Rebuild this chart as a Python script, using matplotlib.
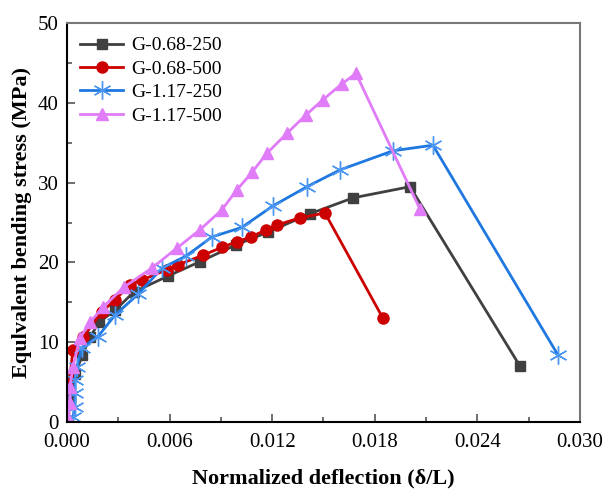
import matplotlib
matplotlib.use("Agg")
import matplotlib.pyplot as plt
from matplotlib.ticker import MultipleLocator

plt.rcParams['font.family'] = ['Liberation Serif', 'DejaVu Serif']
plt.rcParams['mathtext.fontset'] = 'stix'

labels = ['G-0.68-250', 'G-0.68-500', 'G-1.17-250', 'G-1.17-500']

# G-0.68-250
x1 = [0.0, 0.0002, 0.0005, 0.0009, 0.00135, 0.00187, 0.00281, 0.00392, 0.00591,
      0.00778, 0.00988, 0.01175, 0.01421, 0.01673, 0.02006, 0.02649]
y1 = [0.0, 3.2, 6.0, 8.4, 10.6, 12.5, 14.0, 16.3, 18.3,
      20.1, 22.2, 23.8, 26.1, 28.1, 29.5, 7.0]

# G-0.68-500
x2 = [0.0, 0.00018, 0.00035, 0.00094, 0.00205, 0.00281, 0.00368, 0.00439, 0.00585,
      0.00649, 0.00795, 0.00906, 0.00994, 0.01076, 0.01164, 0.01228, 0.01363,
      0.01509, 0.01848]
y2 = [4.5, 5.6, 9.0, 10.6, 13.8, 15.3, 17.2, 17.8, 19.1,
      19.7, 20.9, 21.9, 22.6, 23.2, 24.1, 24.7, 25.6,
      26.2, 13.0]

# G-1.17-250
x3 = [0.00035, 0.00047, 0.00047, 0.00047, 0.00058, 0.00088, 0.00181, 0.00281,
      0.00415, 0.00556, 0.00696, 0.00848, 0.01023, 0.01205, 0.01404, 0.01596,
      0.01906, 0.0214, 0.02871]
y3 = [0.6, 1.9, 3.6, 5.3, 6.9, 9.3, 10.7, 13.4,
      16.0, 19.3, 20.8, 23.2, 24.4, 27.1, 29.5, 31.6,
      34.0, 34.7, 8.4]

# G-1.17-500
x4 = [0.0001, 0.00018, 0.00018, 0.00035, 0.00076, 0.00135, 0.00211, 0.00333,
      0.00497, 0.00643, 0.00778, 0.00906, 0.00994, 0.01082, 0.0117, 0.01287,
      0.01398, 0.01497, 0.01608, 0.0169, 0.02064]
y4 = [0.3, 2.4, 4.4, 6.9, 10.5, 12.5, 14.4, 16.9,
      19.3, 21.8, 24.1, 26.6, 29.1, 31.3, 33.7, 36.2,
      38.5, 40.4, 42.4, 43.7, 26.7]

fig = plt.figure(figsize=(6.08, 4.93), dpi=100)
ax = fig.add_axes([0.110, 0.144, 0.844, 0.809])

ax.plot(x1, y1, color='#404040', lw=2, marker='s', ms=7, label=labels[0])
ax.plot(x2, y2, color='#cc0000', lw=2, marker='o', ms=8, label=labels[1])
ax.plot(x3, y3, color='#1f78e0', lw=2, marker=(6, 2, 0), ms=13,
        mec='#4a96f2', mew=1.0, label=labels[2])
ax.plot(x4, y4, color='#e07cf7', lw=2, marker='^', ms=9, label=labels[3])

ax.set_xlim(0, 0.030)
ax.set_ylim(0, 50)
ax.xaxis.set_major_locator(MultipleLocator(0.006))
ax.xaxis.set_minor_locator(MultipleLocator(0.003))
ax.yaxis.set_major_locator(MultipleLocator(10))
ax.yaxis.set_minor_locator(MultipleLocator(5))
ax.set_xticklabels([f'{v:.3f}' for v in ax.get_xticks()])

ax.tick_params(which='both', direction='in', top=False, right=False,
               labelsize=15, color='#555555')
ax.tick_params(which='major', length=6, width=1.2)
ax.tick_params(which='minor', length=3.5, width=1.2)
ax.tick_params(axis='x', pad=8)
ax.tick_params(axis='y', pad=6)

for s in ['top', 'right']:
    ax.spines[s].set_color('#777777')
    ax.spines[s].set_linewidth(1.5)
for s in ['left', 'bottom']:
    ax.spines[s].set_color('black')
    ax.spines[s].set_linewidth(1.5)

ax.set_xlabel('Normalized deflection (δ/L)', fontsize=16, fontweight='bold', labelpad=12)
ax.set_ylabel('Equlvalent bending stress (MPa)', fontsize=16, fontweight='bold', labelpad=4)

ax.legend(loc='upper left', frameon=False, fontsize=14, handlelength=2.2,
          borderaxespad=0.3, labelspacing=0.3, handletextpad=0.4)

fig.savefig('out.png', dpi=100)
